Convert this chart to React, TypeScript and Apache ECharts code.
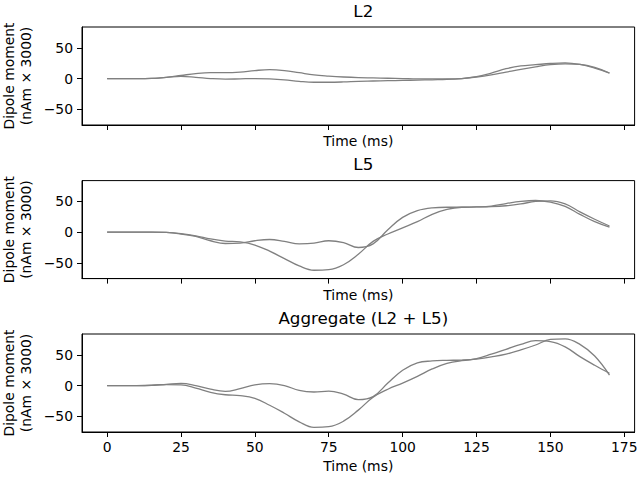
import React, { useEffect, useRef } from "react";
import * as echarts from "echarts";

const times = [0, 5, 10, 15, 20, 25, 30, 35, 40, 45, 50, 55, 60, 65, 70, 75, 80, 85, 90, 95, 100, 105, 110, 115, 120, 125, 130, 135, 140, 145, 150, 155, 160, 165, 170];

const l2Upper = [0, 0, 0, 0.3, 2, 5, 8, 9.5, 9.5, 10.5, 13, 14.5, 13, 9.5, 6, 4, 2.5, 1.5, 1, 0.5, 0, -0.5, -0.5, -0.5, 0, 3, 9, 16, 20.5, 22.5, 24.5, 25.5, 23, 17, 9];
const l2Lower = [0, 0, 0, 0.3, 2, 3.5, 2, 0, -1, -0.5, 0, -0.5, -2, -4.5, -6, -6, -5.5, -4.5, -4, -3.5, -3, -2.5, -2, -1.5, 0, 2.5, 6, 10.5, 15, 19, 22.5, 24, 23, 18, 9];

const l5Deep = [0, 0, 0, 0, -0.5, -2.5, -6, -11, -14.5, -16, -21, -31, -43, -55, -62, -61, -53, -36, -15, -3, 7, 17, 29, 37, 40.5, 41, 41.5, 43, 46, 50, 51, 46, 33, 21, 10];
const l5Shallow = [0, 0, 0, 0, -0.5, -3, -7, -14, -18.5, -18, -14, -12, -15, -19, -18, -14, -17, -25, -19, 4, 24, 35, 39.5, 40.5, 40.5, 41, 42.5, 46.5, 50, 51.5, 49, 42, 29, 17, 8];

const aggDeep = [0, 0, 0, 0.3, 1.5, 1, -4, -11, -15, -16.5, -21, -32, -45, -59, -68, -67, -58, -40, -19, -6, 4, 15, 27, 36, 40.5, 43, 46.5, 51, 58, 66, 75, 76, 67, 48, 17];
const aggShallow = [0, 0, 0, 0.5, 2, 3.5, 0, -6, -9.5, -5, 1, 3, 0, -8, -10.5, -9, -14, -23, -18, 4, 25, 37, 40, 41, 41.5, 44, 51, 59, 67, 73, 71.5, 63, 47, 33, 20];

const panelTitles = ["L2", "L5", "Aggregate (L2 + L5)"];
const xTicks = [0, 25, 50, 75, 100, 125, 150, 175];
const yTicks = [-50, 0, 50];

const panels = [
  [l2Upper, l2Lower],
  [l5Deep, l5Shallow],
  [aggDeep, aggShallow],
];

const FONT = "DejaVu Sans";

export default function App() {
  const ref = useRef<HTMLDivElement>(null);
  useEffect(() => {
    if (!ref.current) return;
    const chart = echarts.init(ref.current, null, { renderer: "svg" });
    const left = 82;
    const width = 552.6;
    const tops = [27, 180.6, 334];
    const height = 98;
    const grids = tops.map((t) => ({
      left,
      top: t,
      width,
      height,
      show: true,
      containLabel: false,
      outerBoundsMode: "none",
      borderColor: "#000",
      borderWidth: 1,
      backgroundColor: "transparent",
    }));
    const xAxes = tops.map((_, i) => ({
      type: "value",
      gridIndex: i,
      min: -8.5,
      max: 178.5,
      name: "Time (ms)",
      nameLocation: "middle",
      nameGap: i === 2 ? 27 : 9,
      nameMoveOverlap: false,
      nameTextStyle: { fontFamily: FONT, fontSize: 13.9, color: "#000" },
      splitLine: { show: false },
      axisLine: { show: true, onZero: false, lineStyle: { color: "#000", width: 1 } },
      axisTick: { show: true, inside: false, length: 5, customValues: xTicks, lineStyle: { color: "#000" } },
      axisLabel: {
        show: i === 2,
        customValues: xTicks,
        margin: 8,
        fontFamily: FONT,
        fontSize: 13.9,
        color: "#000",
      },
    }));
    const yAxes = tops.map((_, i) => ({
      type: "value",
      gridIndex: i,
      min: -75.6,
      max: 83.9,
      name: "Dipole moment\n(nAm × 3000)",
      nameLocation: "middle",
      nameGap: 48,
      nameMoveOverlap: false,
      nameRotate: 90,
      nameTextStyle: { fontFamily: FONT, fontSize: 13.9, color: "#000", lineHeight: 17 },
      splitLine: { show: false },
      axisLine: { show: true, onZero: false, lineStyle: { color: "#000", width: 1 } },
      axisTick: { show: true, inside: false, length: 5, customValues: yTicks, lineStyle: { color: "#000" } },
      axisLabel: {
        customValues: yTicks,
        margin: 9,
        fontFamily: FONT,
        fontSize: 13.9,
        color: "#000",
        formatter: (v: number) => String(v).replace("-", "\u2212"),
      },
    }));
    const series: any[] = [];
    panels.forEach((pair, i) => {
      pair.forEach((vals) => {
        series.push({
          type: "line",
          xAxisIndex: i,
          yAxisIndex: i,
          data: times.map((t, k) => [t, vals[k]]),
          smooth: 0.4,
          symbol: "none",
          lineStyle: { color: "#808080", width: 1.3 },
        });
      });
    });
    chart.setOption({
      animation: false,
      backgroundColor: "#fff",
      title: panelTitles.map((txt, i) => ({
        text: txt,
        left: left + width / 2,
        textAlign: "center",
        top: tops[i] - 30,
        textStyle: { fontFamily: FONT, fontSize: 16.7, fontWeight: "normal", color: "#000" },
      })),
      grid: grids,
      xAxis: xAxes,
      yAxis: yAxes,
      series,
    });
    return () => chart.dispose();
  }, []);
  return (
    <div
      ref={ref}
      style={{ position: "absolute", left: 0, top: 0, width: 640, height: 480 }}
    />
  );
}
